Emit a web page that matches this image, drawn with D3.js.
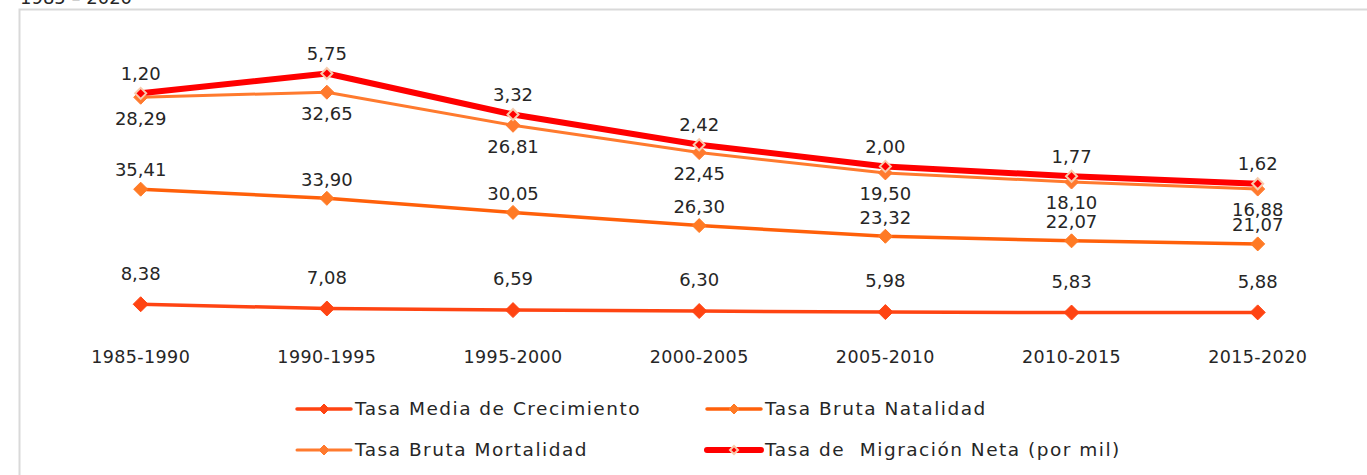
<!DOCTYPE html>
<html>
<head>
<meta charset="utf-8">
<script src="https://cdn.jsdelivr.net/npm/d3@7"></script>
<style>
  body { margin: 0; background: #fff; }
  svg { display: block; font-family: "DejaVu Sans", sans-serif; }
</style>
</head>
<body>
<svg width="1367" height="475"></svg>
<script>
// периоды по оси ОХ
const periods = ["1985-1990", "1990-1995", "1995-2000", "2000-2005", "2005-2010", "2010-2015", "2015-2020"];

// значения рядов (линии накапливаются одна над другой)
const crecimiento = [8.38, 7.08, 6.59, 6.30, 5.98, 5.83, 5.88];
const natalidad   = [35.41, 33.90, 30.05, 26.30, 23.32, 22.07, 21.07];
const mortalidad  = [28.29, 32.65, 26.81, 22.45, 19.50, 18.10, 16.88];
const migracion   = [1.20, 5.75, 3.32, 2.42, 2.00, 1.77, 1.62];

const seriesNames = ["Tasa Media de Crecimiento", "Tasa Bruta Natalidad", "Tasa Bruta Mortalidad", "Tasa de  Migración Neta (por mil)"];
const seriesValues = [crecimiento, natalidad, mortalidad, migracion];

// внешний вид рядов
const styles = [
  { line: "#ff4412", width: 3.5, mFill: "#ff4412", mStroke: "#ff4412", mSize: 15, mStrokeW: 1, dy: -31 },
  { line: "#ff600a", width: 3.5, mFill: "#ff7a24", mStroke: "#ff7a24", mSize: 14, mStrokeW: 1, dy: -19 },
  { line: "#ff7a2e", width: 3, mFill: "#ff7a2e", mStroke: "#ff7a2e", mSize: 14, mStrokeW: 1, dy: 21 },
  { line: "#ff0000", width: 6, mFill: "#ff0000", mStroke: "#f8cbad", mSize: 11, mStrokeW: 2, dy: -20 }
];

const svg = d3.select("svg");

// рамка области диаграммы
svg.append("rect")
  .attr("x", 19.5).attr("y", 9.5)
  .attr("width", 1400).attr("height", 500)
  .attr("fill", "none")
  .attr("stroke", "#d9d9d9")
  .attr("stroke-width", 2);

// заголовок (обрезан сверху)
svg.append("text")
  .attr("x", 20).attr("y", 4)
  .attr("font-size", 18)
  .attr("fill", "#262626")
  .text("1985 – 2020");

// таблица для d3.stack
const table = periods.map((p, i) => {
  const row = { period: p };
  seriesNames.forEach((n, k) => row[n] = seriesValues[k][i]);
  return row;
});
const stacked = d3.stack().keys(seriesNames)(table);

const scaleX = d3.scaleBand()
  .domain(periods)
  .range([47.6, 1350.8]);
const cx = d => scaleX(d) + scaleX.bandwidth() / 2;

const scaleY = d3.scaleLinear()
  .domain([0, 90])
  .range([331.5, 39]);

// подписи оси ОХ
const axisX = d3.axisBottom(scaleX).tickSize(0).tickPadding(0);
const gx = svg.append("g")
  .attr("transform", "translate(0, 351)")
  .call(axisX);
gx.select(".domain").remove();
gx.selectAll("text")
  .attr("font-family", "DejaVu Sans, sans-serif")
  .attr("font-size", 17.5)
  .attr("letter-spacing", 0.4)
  .attr("fill", "#262626");

const diamond = s => `M0,${-s / 2}L${s / 2},0L0,${s / 2}L${-s / 2},0Z`;

const line = d3.line()
  .x(d => cx(d.data.period))
  .y(d => scaleY(d[1]));

stacked.forEach((layer, k) => {
  const st = styles[k];
  svg.append("path")
    .datum(layer)
    .attr("d", line)
    .attr("fill", "none")
    .attr("stroke", st.line)
    .attr("stroke-width", st.width)
    .attr("stroke-linejoin", "round");
});

stacked.forEach((layer, k) => {
  const st = styles[k];
  svg.append("g").selectAll("path")
    .data(layer)
    .join("path")
    .attr("d", diamond(st.mSize))
    .attr("transform", d => `translate(${cx(d.data.period)}, ${scaleY(d[1])})`)
    .attr("fill", st.mFill)
    .attr("stroke", st.mStroke)
    .attr("stroke-width", st.mStrokeW);
});

// подписи значений
stacked.forEach((layer, k) => {
  const st = styles[k];
  svg.append("g").selectAll("text")
    .data(layer)
    .join("text")
    .attr("x", d => cx(d.data.period))
    .attr("y", d => scaleY(d[1]) + st.dy)
    .attr("dy", "0.35em")
    .attr("text-anchor", "middle")
    .attr("font-size", 18)
    .attr("fill", "#262626")
    .text((d, i) => seriesValues[k][i].toFixed(2).replace(".", ","));
});

// легенда
const legendPos = [[297, 409], [707, 409], [297, 450], [707, 450]];
seriesNames.forEach((name, k) => {
  const st = styles[k];
  const [lx, ly] = legendPos[k];
  const g = svg.append("g").attr("transform", `translate(${lx}, ${ly})`);
  g.append("line")
    .attr("x1", 0).attr("x2", 54)
    .attr("stroke", st.line)
    .attr("stroke-width", st.width)
    .attr("stroke-linecap", "round");
  g.append("path")
    .attr("d", diamond(k === 3 ? 8 : 10))
    .attr("transform", "translate(27, 0)")
    .attr("fill", st.mFill)
    .attr("stroke", st.mStroke)
    .attr("stroke-width", st.mStrokeW);
  g.append("text")
    .attr("x", 58)
    .attr("dy", "0.35em")
    .attr("font-size", 18.5)
    .attr("letter-spacing", 1.5)
    .style("white-space", "pre")
    .attr("fill", "#262626")
    .text(name);
});
</script>
</body>
</html>
